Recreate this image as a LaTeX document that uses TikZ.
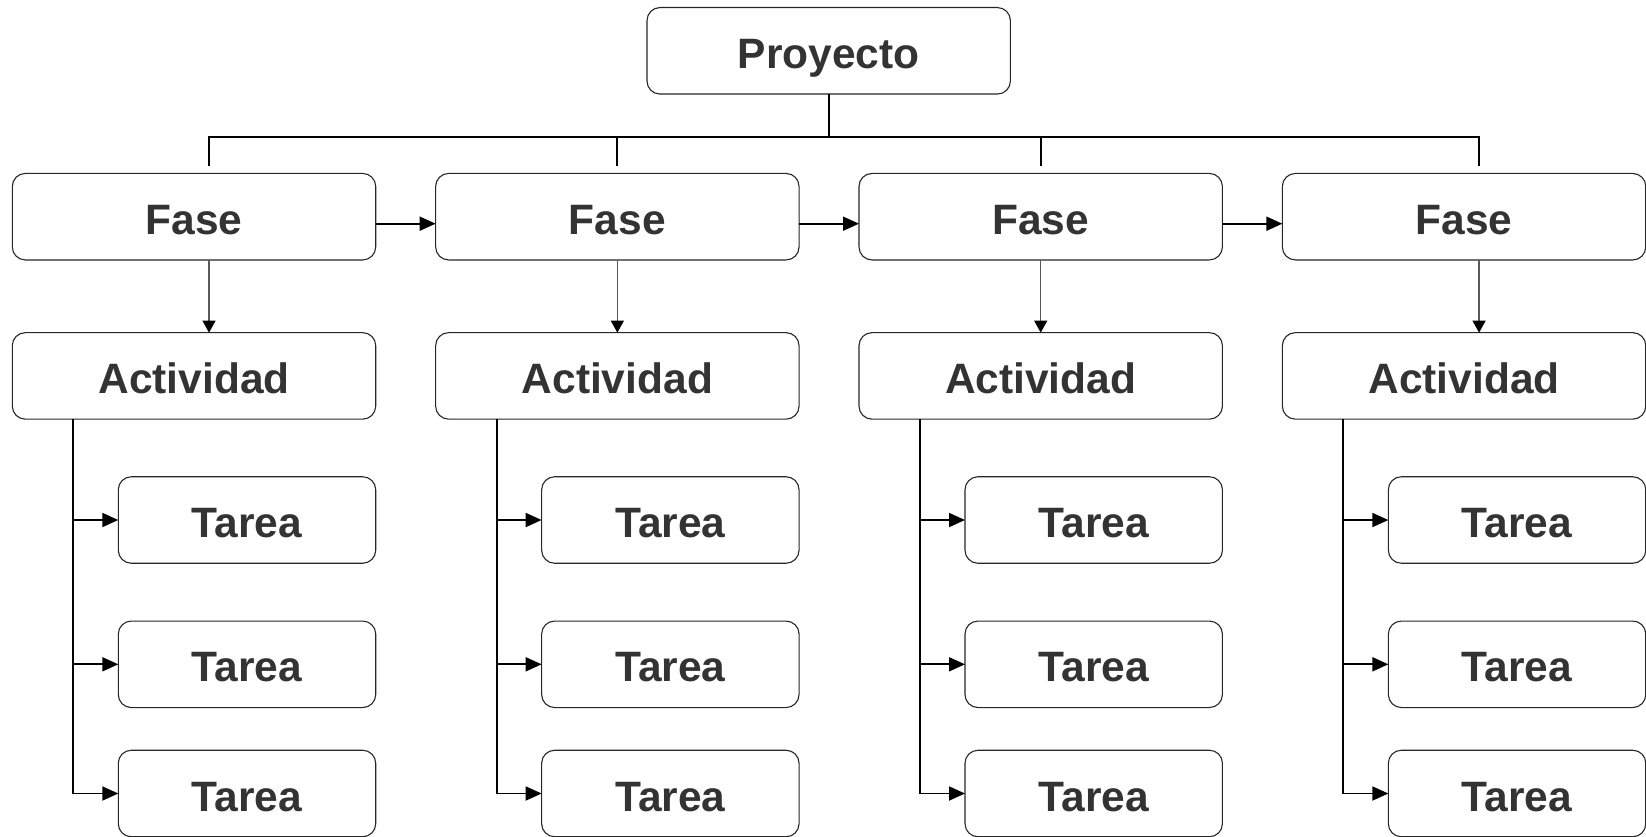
\documentclass[tikz,border=0pt]{standalone}
\usepackage{fontspec}
\setmainfont{Liberation Sans}
\usetikzlibrary{arrows.meta}
\definecolor{txt}{HTML}{333333}
\begin{document}
\begin{tikzpicture}[x=1pt,y=-1pt,
  box/.style={draw=black!85, line width=1.1pt, rounded corners=13pt, minimum height=86.5pt,
    inner sep=0pt, outer sep=0pt, text=txt, font=\bfseries\fontsize{42.5}{50}\selectfont,
    text height=37pt, text depth=2pt},
  wide/.style={box, minimum width=363.4pt},
  task/.style={box, minimum width=257.4pt},
  conn/.style={line width=1.8pt, draw=black},
  thinarr/.style={line width=1.2pt, draw=black!65, -{Triangle[length=12pt,width=13pt,color=black]}},
  arr/.style={conn, -{Triangle[length=16pt,width=14pt]}}]
\useasboundingbox (0,0) rectangle (1646,837);

\node[wide] (p) at (828.7,50.8) {Proyecto};
\coordinate (bus) at (828.7,137);

\foreach \i/\L/\s in {1/12.3/15, 2/435.65/0, 3/859.0/0, 4/1282.35/15}{
  \node[wide] (f\i) at (\L+181.7,216.7) {Fase};
  \node[wide] (a\i) at (\L+181.7,375.9) {Actividad};
  \node[task] (t\i1) at (\L+234.7,520) {Tarea};
  \node[task] (t\i2) at (\L+234.7,664.3) {Tarea};
  \node[task] (t\i3) at (\L+234.7,793.5) {Tarea};
  \coordinate (s\i) at ([xshift=\s pt]f\i.north);
  \coordinate (v\i) at ([xshift=61pt]a\i.south west);
  \draw[thinarr] ([xshift=\s pt]f\i.south) -- ([xshift=\s pt]a\i.north);
  \draw[arr] (v\i) |- (t\i3.west);
  \draw[arr] (v\i |- t\i1.west) -- (t\i1.west);
  \draw[arr] (v\i |- t\i2.west) -- (t\i2.west);
}

\draw[conn] (p.south) -- (bus);
\draw[conn] ([yshift=7.5pt]s1) -- (s1 |- bus) -- (s4 |- bus) -- ([yshift=7.5pt]s4);
\draw[conn] (s2 |- bus) -- ([yshift=7.5pt]s2);
\draw[conn] (s3 |- bus) -- ([yshift=7.5pt]s3);

\draw[arr] ([yshift=-7pt]f1.east) -- ([yshift=-7pt]f2.west);
\draw[arr] ([yshift=-7pt]f2.east) -- ([yshift=-7pt]f3.west);
\draw[arr] ([yshift=-7pt]f3.east) -- ([yshift=-7pt]f4.west);
\end{tikzpicture}
\end{document}
